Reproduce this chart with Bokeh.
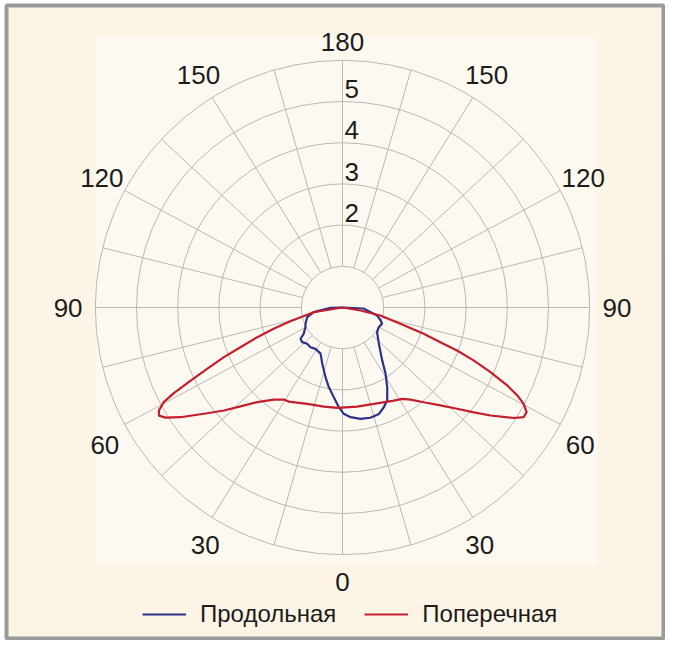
import numpy as np
from bokeh.plotting import figure
from bokeh.models import Range1d, Legend, LegendItem, BoxAnnotation
from bokeh.core.properties import value
from bokeh.embed import file_html
from bokeh.resources import INLINE

# ---------------- data (angle from nadir in degrees, intensity in chart units) ----------------
red_angle = [-90, -80.7, -75.2, -72.8, -70.8, -68.7, -67.3, -65.6, -64.3, -63.1, -62.1, -60.7,
             -59.5, -58.1, -55.9, -52.0, -49.0, -45.9, -42.0, -36.7, -32.5, -29.7, -20.1, -10.7,
             -3.0, 8.4, 18.0, 28.9, 33.2, 36.4, 40.6, 45.0, 48.5, 51.4, 53.9, 57.2, 58.8, 60.4,
             62.0, 63.3, 64.7, 66.4, 68.0, 69.4, 70.5, 72.1, 74.3, 78.1, 80.5, 90]
red_value = [0, 0.71, 1.31, 1.75, 2.19, 2.66, 3.12, 3.61, 4.09, 4.59, 4.91, 5.11,
             5.17, 5.06, 4.75, 4.17, 3.81, 3.45, 3.09, 2.79, 2.65, 2.63, 2.49, 2.45,
             2.44, 2.43, 2.46, 2.58, 2.65, 2.78, 3.03, 3.36, 3.71, 4.08, 4.45, 4.95, 5.14, 5.14,
             4.98, 4.75, 4.42, 3.92, 3.44, 2.97, 2.52, 2.07, 1.46, 0.94, 0.44, 0]

blue_angle = [-90, -88.6, -80.8, -74.6, -66.2, -62.0, -55.8, -53.3, -49.3, -44.2, -38.9, -33.2,
              -25.4, -19.8, -13.7, -9.8, -5.5, -2.1, 0.7, 4.2, 9.2, 14.2, 18.9, 22.5, 25.7, 29.3,
              33.0, 36.8, 45.0, 54.6, 61.5, 67.7, 71.1, 77.0, 87.3, 90]
blue_value = [0, 0.29, 0.71, 0.89, 0.98, 1.02, 1.14, 1.27, 1.29, 1.23, 1.24, 1.20,
              1.24, 1.45, 1.74, 1.96, 2.19, 2.42, 2.58, 2.67, 2.74, 2.76, 2.73, 2.62, 2.50, 2.22,
              1.92, 1.61, 1.25, 1.03, 1.00, 1.04, 0.98, 0.86, 0.51, 0]

series_names = ["Продольная", "Поперечная"]
ring_values = [1, 2, 3, 4, 5, 6]
ring_label_values = [2, 3, 4, 5]
ring_labels = ["2", "3", "4", "5"]
spoke_angles = list(range(0, 360, 15))
angle_tick_values = [0, 30, 60, 90, 120, 150, 180, -150, -120, -90, -60, -30]
angle_tick_labels = [str(abs(a)) for a in angle_tick_values]

# ---------------- layout / style ----------------
PX = 41.2            # pixels per unit
CX, CY = 342, 307    # centre in canvas pixels
W, H = 665, 640
SQ = 0.93            # slight vertical squash of the spoke directions, as in the original drawing
FONT = "Liberation Sans"
GRID = "#b8b8b8"
BLUE = "#2c3287"
RED = "#c41e2e"
TXT = "#1c1c1c"


def px_x(px):
    return (px - CX) / PX


def px_y(py):
    return (CY - py) / PX


def polar(a_deg, r):
    a = np.radians(np.asarray(a_deg, dtype=float))
    r = np.asarray(r, dtype=float)
    return r * np.sin(a), -r * np.cos(a)


def spoke_dir(a_deg):
    a = np.radians(np.asarray(a_deg, dtype=float))
    dx, dy = np.sin(a), -SQ * np.cos(a)
    n = np.hypot(dx, dy)
    return dx / n, dy / n


p = figure(width=W, height=H, output_backend="svg", toolbar_location=None,
           x_range=Range1d(px_x(0), px_x(W)), y_range=Range1d(px_y(H), px_y(0)),
           min_border=0)
p.axis.visible = False
p.grid.visible = False
p.background_fill_color = "white"
p.border_fill_color = "white"
p.outline_line_color = None

# framed panel
p.add_layout(BoxAnnotation(left=px_x(6), right=px_x(663), top=px_y(5), bottom=px_y(638),
                           fill_color="#fcf5e6", fill_alpha=1, line_color="#9a9a9a",
                           line_alpha=1, line_width=4, level="underlay"))
p.add_layout(BoxAnnotation(left=px_x(95), right=px_x(596), top=px_y(37), bottom=px_y(565),
                           fill_color="#fdf9f0", fill_alpha=1, line_alpha=0, level="underlay"))

# rings
p.circle(x=[0] * len(ring_values), y=[0] * len(ring_values), radius=ring_values,
         fill_color=None, line_color=GRID, line_width=1)
# spokes
sdx, sdy = spoke_dir(spoke_angles)
p.segment(x0=sdx * ring_values[0], y0=sdy * ring_values[0],
          x1=sdx * ring_values[-1], y1=sdy * ring_values[-1],
          line_color=GRID, line_width=1)

# ring labels
p.text(x=[0.05] * len(ring_label_values), y=[v + 0.3 for v in ring_label_values], text=ring_labels,
       text_font=value(FONT), text_font_size="26px", text_color=TXT,
       text_align="left", text_baseline="middle")

# angle labels
lx, ly = [], []
for a in angle_tick_values:
    if abs(a) == 180:
        x, y = polar(a, 6.45)
    elif abs(a) > 90:
        dx, dy = spoke_dir(a)
        x, y = dx * 6.63, dy * 6.63
    else:
        x, y = polar(a, 6.66)
    lx.append(float(x))
    ly.append(float(y))
p.text(x=lx, y=ly, text=angle_tick_labels, text_font=value(FONT), text_font_size="26px",
       text_color=TXT, text_align="center", text_baseline="middle")

# curves
bx, by = polar(blue_angle, blue_value)
rx, ry = polar(red_angle, red_value)
blue_r = p.line(bx, by, line_color=BLUE, line_width=2.2)
red_r = p.line(rx, ry, line_color=RED, line_width=2.2)

legend = Legend(items=[LegendItem(label=series_names[0], renderers=[blue_r]),
                       LegendItem(label=series_names[1], renderers=[red_r])],
                orientation="horizontal", location=(142, 11),
                glyph_width=44, glyph_height=30, label_height=30, label_standoff=14,
                spacing=28, padding=0, margin=0, border_line_alpha=0, background_fill_alpha=0,
                label_text_font=FONT, label_text_font_size="24px", label_text_color=TXT)
p.add_layout(legend)

open("out.html", "w").write(file_html(p, INLINE))
